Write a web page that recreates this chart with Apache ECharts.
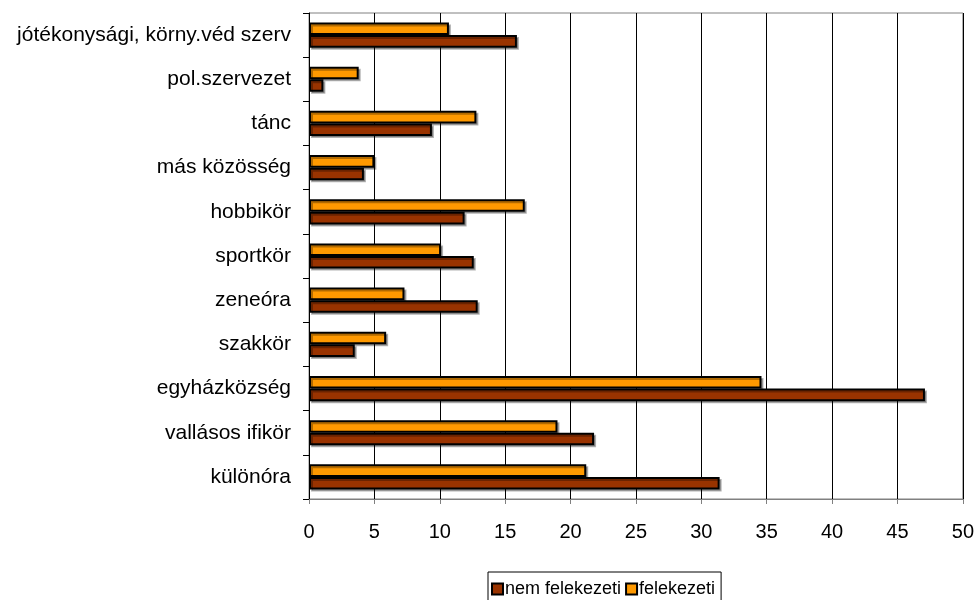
<!DOCTYPE html>
<html>
<head>
<meta charset="utf-8">
<script src="https://cdn.jsdelivr.net/npm/echarts@6/dist/echarts.min.js"></script>
<style>
  html, body { margin: 0; padding: 0; background: #fff; }
  #chart { width: 977px; height: 600px; }
</style>
</head>
<body>
<div id="chart"></div>
<script>
// Activity categories, listed bottom to top on the vertical axis
const categories = [
  'különóra', 'vallásos ifikör', 'egyházközség', 'szakkör', 'zeneóra',
  'sportkör', 'hobbikör', 'más közösség', 'tánc', 'pol.szervezet',
  'jótékonysági, körny.véd szerv'
];
const nemFelekezeti = [31.4, 21.8, 47.1, 3.5, 12.9, 12.6, 11.9, 4.2, 9.4, 1.1, 15.9];
const felekezeti    = [21.2, 19.0, 34.6, 5.9, 7.3, 10.1, 16.5, 5.0, 12.8, 3.8, 10.7];
const seriesNames = ['nem felekezeti', 'felekezeti'];
const xTicks = { min: 0, max: 50, interval: 5 };

const FONT = 'Liberation Sans, Arial, sans-serif';

const barStyle = (color) => ({
  color: color,
  borderColor: '#000',
  borderWidth: 2,
  shadowColor: 'rgba(0,0,0,0.3)',
  shadowOffsetX: 2,
  shadowOffsetY: 2,
  shadowBlur: 0
});

const chart = echarts.init(document.getElementById('chart'));
chart.setOption({
  animation: false,
  backgroundColor: '#fff',
  grid: {
    left: 309, right: 12, top: 13, bottom: 101,
    show: true, borderColor: '#808080', borderWidth: 1
  },
  legend: {
    data: seriesNames,
    bottom: -18,
    left: 488,
    itemWidth: 11,
    itemHeight: 11,
    itemGap: 4,
    padding: [8, 6, 20, 3],
    borderColor: '#000',
    borderWidth: 1,
    icon: 'rect',
    textStyle: { fontFamily: FONT, fontSize: 18, color: '#000', padding: [0, 0, 0, -3] }
  },
  xAxis: {
    type: 'value',
    min: xTicks.min, max: xTicks.max, interval: xTicks.interval,
    axisLine: { show: true, lineStyle: { color: '#808080', width: 1 } },
    axisTick: { show: true, length: 5, lineStyle: { color: '#808080' } },
    splitLine: { show: true, lineStyle: { color: '#000', width: 1 } },
    axisLabel: { fontFamily: FONT, fontSize: 20, color: '#000', margin: 23 }
  },
  yAxis: {
    type: 'category',
    data: categories,
    axisLine: { show: true, lineStyle: { color: '#000', width: 1 } },
    axisTick: { show: true, length: 6, alignWithLabel: false, lineStyle: { color: '#000' } },
    axisLabel: { fontFamily: FONT, fontSize: 21, color: '#000', margin: 18 },
    splitLine: { show: false }
  },
  // First series is drawn at the top of each category band
  series: [
    {
      name: seriesNames[1], type: 'bar', data: felekezeti,
      barGap: '0%', barCategoryGap: '43%',
      itemStyle: barStyle('#FF9900')
    },
    {
      name: seriesNames[0], type: 'bar', data: nemFelekezeti,
      barGap: '0%', barCategoryGap: '43%',
      itemStyle: barStyle('#993300')
    }
  ]
});
</script>
</body>
</html>
